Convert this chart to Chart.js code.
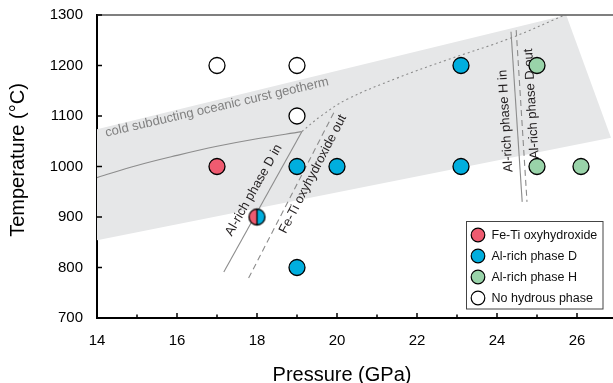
<!DOCTYPE html>
<html><head><meta charset="utf-8">
<script src="https://cdn.jsdelivr.net/npm/chart.js@4/dist/chart.umd.min.js"></script>
<style>html,body{margin:0;padding:0;background:#fff;}#wrap{width:613px;height:383px;}</style>
</head><body><div id="wrap"><canvas id="c" width="613" height="383"></canvas></div>
<script>
// ---- tick values ----
const xTickValues = [14,15,16,17,18,19,20,21,22,23,24,25,26];
const yTickValues = [700,800,900,1000,1100,1200,1300];

// ---- experimental run products (Pressure GPa, Temperature °C) ----
const feTiOxyhydroxide = [{x:17,y:1000}];
const alRichPhaseD = [{x:19,y:1000},{x:20,y:1000},{x:19,y:800},{x:23.1,y:1000},{x:23.1,y:1200}];
const alRichPhaseH = [{x:25,y:1200},{x:25,y:1000},{x:26.1,y:1000}];
const noHydrousPhase = [{x:17,y:1200},{x:19,y:1200},{x:19,y:1100}];
const feTiPlusPhaseD = [{x:18,y:900}];

// ---- phase boundaries & geotherm ----
const geothermBand = [{x:14,y:1074},{x:25.73,y:1300},{x:26.85,y:1057},{x:14,y:854},{x:14,y:1074}];
const lowTCurve = [{x:14,y:978},{x:15,y:1002},{x:16,y:1022},{x:17,y:1040},{x:18,y:1055},{x:19.12,y:1069}];
const phaseDIn = [{x:19.12,y:1069},{x:17.17,y:791}];
const feTiOut = [{x:17.79,y:779},{x:19.93,y:1108}];
const upperCurve = [{x:19.12,y:1069},{x:19.6,y:1100},{x:20.25,y:1133},{x:21.5,y:1175},{x:22.75,y:1211},{x:24.33,y:1254},{x:25.7,y:1300}];
const phaseHIn = [{x:24.35,y:1267},{x:24.63,y:930}];
const phaseDOut = [{x:24.48,y:1270},{x:24.75,y:930}];

const legendLabels = ['Fe-Ti oxyhydroxide','Al-rich phase D','Al-rich phase H','No hydrous phase'];
const xTitle = 'Pressure (GPa)';
const yTitle = 'Temperature (°C)';

// ---- styles ----
const FONT = '"Liberation Sans", Arial, Helvetica, sans-serif';
const RED = '#EF5B70', BLUE = '#00AEDE', GREEN = '#99D3A9', WHITE = '#FFFFFF';
const LINE = '#8c8c8c';
const annotations = [
  {text:'cold subducting oceanic curst geotherm', x:17.0, y:1117, angle:-13, color:'#808080', size:13},
  {text:'Al-rich phase D in', x:17.92, y:953, angle:-60.6, color:'#231f20', size:13},
  {text:'Fe-Ti oxyhydroxide out', x:19.4, y:985, angle:-62.6, color:'#231f20', size:13},
  {text:'Al-rich phase H in', x:24.22, y:1090, angle:-93.5, color:'#231f20', size:13},
  {text:'Al-rich phase D out', x:24.87, y:1124, angle:-93.5, color:'#231f20', size:13}
];

// split marker
function splitMarker(r, bw){
  const s = Math.ceil(2*(r+bw))+2; const cv = document.createElement('canvas');
  cv.width = s; cv.height = s; const c = cv.getContext('2d'); const m = s/2;
  c.fillStyle = RED; c.beginPath(); c.arc(m,m,r,Math.PI/2,Math.PI*1.5,false); c.closePath(); c.fill();
  c.fillStyle = BLUE; c.beginPath(); c.arc(m,m,r,-Math.PI/2,Math.PI/2,false); c.closePath(); c.fill();
  c.strokeStyle='#000'; c.lineWidth=bw; c.beginPath(); c.moveTo(m,m-r); c.lineTo(m,m+r); c.stroke();
  c.beginPath(); c.arc(m,m,r,0,Math.PI*2); c.stroke();
  return cv;
}

const ptBase = {type:'scatter', pointRadius:8, pointBorderWidth:1.3, pointBorderColor:'#000', pointHoverRadius:8};
const lineBase = {type:'line', showLine:true, pointRadius:0, pointHoverRadius:0, fill:false, borderColor:LINE, borderWidth:1.1};

const decor = {
  id:'decor',
  afterDatasetDraw(chart, args){
    if (chart.data.datasets[args.index].id !== 'lastLine') return;
    const ctx = chart.ctx, xs = chart.scales.x, ys = chart.scales.y;
    annotations.forEach(a=>{
      ctx.save();
      ctx.translate(xs.getPixelForValue(a.x), ys.getPixelForValue(a.y));
      ctx.rotate(a.angle*Math.PI/180);
      ctx.font = a.size+'px '+FONT; ctx.fillStyle = a.color;
      ctx.textAlign='center'; ctx.textBaseline='middle';
      ctx.fillText(a.text,0,0);
      ctx.restore();
    });
  },
  afterDraw(chart){
    const ctx = chart.ctx, ca = chart.chartArea, xs = chart.scales.x, ys = chart.scales.y;
    ctx.save();
    // top spine
    ctx.strokeStyle='#555'; ctx.lineWidth=1.5;
    ctx.beginPath(); ctx.moveTo(ca.left, ca.top); ctx.lineTo(ca.right, ca.top); ctx.stroke();
    // inward ticks
    ctx.strokeStyle='#000'; ctx.lineWidth=1.5;
    xTickValues.forEach(v=>{
      const px = xs.getPixelForValue(v); const len = (v%2===0)?5:3.5;
      ctx.beginPath(); ctx.moveTo(px, ca.bottom); ctx.lineTo(px, ca.bottom-len); ctx.stroke();
    });
    yTickValues.forEach(v=>{
      const py = ys.getPixelForValue(v);
      ctx.beginPath(); ctx.moveTo(ca.left, py); ctx.lineTo(ca.left+5, py); ctx.stroke();
    });
    // axis titles
    ctx.fillStyle='#000'; ctx.font='20px '+FONT; ctx.textAlign='center'; ctx.textBaseline='middle';
    ctx.fillText(xTitle, 342, 375);
    ctx.save(); ctx.translate(18, 160); ctx.rotate(-Math.PI/2); ctx.fillText(yTitle, 0, 0); ctx.restore();
    // legend
    const bx1 = ca.right-10, by1 = ca.bottom-9, bx0 = 466.5, by0 = 221.5;
    ctx.fillStyle='#fff'; ctx.fillRect(bx0,by0,bx1-bx0,by1-by0);
    ctx.strokeStyle='#444'; ctx.lineWidth=1; ctx.strokeRect(bx0,by0,bx1-bx0,by1-by0);
    const cols=[RED,BLUE,GREEN,WHITE];
    ctx.font='12.5px '+FONT; ctx.textAlign='left'; ctx.textBaseline='middle';
    legendLabels.forEach((t,i)=>{
      const cy = by0 + 13.5 + i*21;
      ctx.beginPath(); ctx.arc(bx0+11.5, cy, 6.8, 0, Math.PI*2);
      ctx.fillStyle=cols[i]; ctx.fill(); ctx.strokeStyle='#000'; ctx.lineWidth=1.2; ctx.stroke();
      ctx.fillStyle='#111'; ctx.fillText(t, bx0+25, cy+0.5);
    });
    ctx.restore();
  }
};

new Chart(document.getElementById('c'), {
  type:'scatter',
  data:{datasets:[
    Object.assign({}, ptBase, {label:legendLabels[0], data:feTiOxyhydroxide, backgroundColor:RED, order:1}),
    Object.assign({}, ptBase, {label:legendLabels[1], data:alRichPhaseD, backgroundColor:BLUE, order:2}),
    Object.assign({}, ptBase, {label:legendLabels[2], data:alRichPhaseH, backgroundColor:GREEN, order:3}),
    Object.assign({}, ptBase, {label:legendLabels[3], data:noHydrousPhase, backgroundColor:WHITE, order:4}),
    Object.assign({}, ptBase, {label:'Fe-Ti oxyhydroxide + Al-rich phase D', data:feTiPlusPhaseD, pointStyle:splitMarker(8,1.3), order:0}),
    Object.assign({}, lineBase, {label:'band', data:geothermBand, fill:'shape', backgroundColor:'#E6E7E8', borderColor:'rgba(0,0,0,0)', borderWidth:0, order:30}),
    Object.assign({}, lineBase, {label:'curve', data:lowTCurve, tension:0.4, order:29}),
    Object.assign({}, lineBase, {label:'D in', data:phaseDIn, order:28}),
    Object.assign({}, lineBase, {label:'FeTi out', data:feTiOut, borderDash:[6,4], order:27}),
    Object.assign({}, lineBase, {label:'upper', data:upperCurve, tension:0.4, borderDash:[2,3], order:26}),
    Object.assign({}, lineBase, {label:'H in', data:phaseHIn, order:25}),
    Object.assign({}, lineBase, {label:'D out', id:'lastLine', data:phaseDOut, borderDash:[6,4], order:21})
  ]},
  options:{
    responsive:false, animation:false, devicePixelRatio:1, events:[],
    layout:{autoPadding:false, padding:{top:15,right:0,bottom:0,left:0}},
    plugins:{legend:{display:false}, tooltip:{enabled:false}},
    scales:{
      x:{type:'linear', min:14, max:26.9,
        afterBuildTicks:s=>{s.ticks = xTickValues.map(v=>({value:v}));},
        afterFit:s=>{s.height=65; s.paddingLeft=0; s.paddingRight=0;},
        grid:{display:false, drawTicks:false},
        border:{display:true, color:'#000', width:2},
        ticks:{autoSkip:false, maxRotation:0, padding:14, color:'#000', font:{family:FONT,size:15},
          callback:v=> (v%2===0 ? String(v) : '')},
        title:{display:false}
      },
      y:{type:'linear', min:700, max:1300,
        afterBuildTicks:s=>{s.ticks = yTickValues.map(v=>({value:v}));},
        afterFit:s=>{s.width=97; s.paddingTop=0; s.paddingBottom=0;},
        grid:{display:false, drawTicks:false},
        border:{display:true, color:'#000', width:2},
        ticks:{padding:14, color:'#000', font:{family:FONT,size:15}, callback:v=>String(v)},
        title:{display:false}
      }
    }
  },
  plugins:[decor]
});
</script></body></html>
